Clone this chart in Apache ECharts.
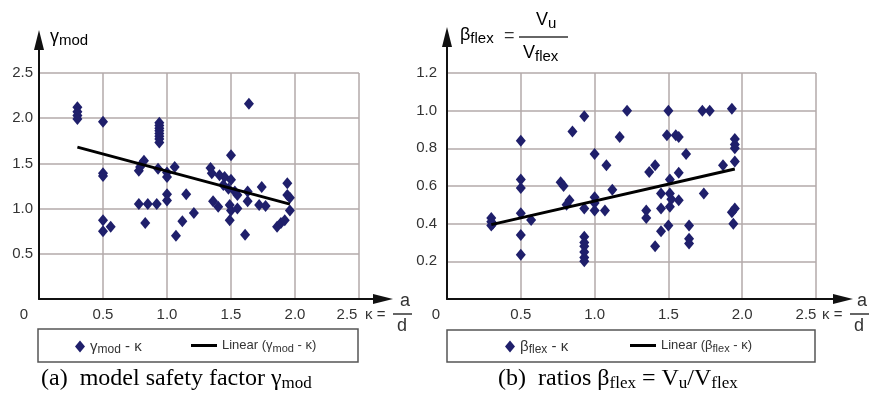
<!DOCTYPE html>
<html>
<head>
<meta charset="utf-8">
<script src="https://cdn.jsdelivr.net/npm/echarts@6/dist/echarts.min.js"></script>
<style>
html, body { margin: 0; padding: 0; background: #fff; }
#chart { width: 874px; height: 404px; }
</style>
</head>
<body>
<div id="chart"></div>
<script>
// (a) gamma_mod over kappa
var kappaA = [0.30, 0.30, 0.30, 0.30, 0.50, 0.50, 0.50, 0.50, 0.50, 0.56,
	0.78, 0.79, 0.82, 0.80, 0.78, 0.85, 0.92, 0.83,
	0.94, 0.94, 0.94, 0.94, 0.94, 0.94, 0.94, 0.94,
	0.93, 1.00, 1.00, 1.00, 1.00, 1.06, 1.07, 1.12, 1.15, 1.21,
	1.34, 1.35, 1.41, 1.45, 1.50, 1.44, 1.48, 1.53, 1.55,
	1.36, 1.40, 1.49, 1.50, 1.55, 1.49, 1.50, 1.64,
	1.63, 1.63, 1.61, 1.74, 1.72, 1.77,
	1.86, 1.89, 1.92, 1.94, 1.94, 1.96, 1.96];
var gammaMod = [2.12, 2.07, 2.03, 1.99, 1.96, 1.39, 1.36, 0.87, 0.75, 0.80,
	1.42, 1.46, 1.53, 1.49, 1.05, 1.05, 1.05, 0.84,
	1.95, 1.92, 1.89, 1.86, 1.83, 1.80, 1.77, 1.73,
	1.44, 1.40, 1.35, 1.16, 1.09, 1.46, 0.70, 0.86, 1.16, 0.95,
	1.45, 1.39, 1.37, 1.35, 1.32, 1.26, 1.22, 1.19, 1.15,
	1.08, 1.02, 1.04, 0.98, 1.00, 0.87, 1.59, 2.16,
	1.19, 1.08, 0.71, 1.24, 1.04, 1.03,
	0.80, 0.84, 0.87, 1.28, 1.15, 1.12, 0.98];
var trendKappaA = [0.30, 1.96];
var trendGammaA = [1.68, 1.05];

// (b) beta_flex over kappa
var kappaB = [0.30, 0.30, 0.30, 0.31, 0.50, 0.50, 0.50, 0.50, 0.50, 0.50, 0.57,
	0.77, 0.79, 0.83, 0.81, 0.85, 0.93, 0.93,
	0.93, 0.93, 0.93, 0.93, 0.93, 0.93,
	1.00, 1.00, 1.00, 1.00, 1.07, 1.08, 1.12, 1.17, 1.22,
	1.50, 1.73, 1.78, 1.93,
	1.49, 1.55, 1.57, 1.95, 1.95, 1.95,
	1.62, 1.37, 1.41, 1.57, 1.87, 1.95, 1.51,
	1.45, 1.51, 1.52, 1.57, 1.74, 1.45, 1.51,
	1.35, 1.35, 1.93, 1.95, 1.94, 1.50, 1.45, 1.64, 1.41, 1.64, 1.64];
var betaFlex = [0.43, 0.41, 0.39, 0.40, 0.84, 0.635, 0.59, 0.455, 0.34, 0.235, 0.42,
	0.62, 0.60, 0.525, 0.50, 0.89, 0.97, 0.48,
	0.33, 0.30, 0.28, 0.25, 0.22, 0.20,
	0.77, 0.54, 0.51, 0.47, 0.47, 0.71, 0.58, 0.86, 1.00,
	1.00, 1.00, 1.00, 1.01,
	0.87, 0.87, 0.86, 0.85, 0.82, 0.80,
	0.77, 0.675, 0.71, 0.67, 0.71, 0.73, 0.635,
	0.56, 0.56, 0.53, 0.525, 0.56, 0.48, 0.49,
	0.47, 0.43, 0.46, 0.48, 0.40, 0.39, 0.36, 0.39, 0.28, 0.32, 0.295];
var trendKappaB = [0.30, 1.95];
var trendBetaB = [0.395, 0.69];

// axis ranges / ticks
var kappaMax = 2.5, kappaStep = 0.5;
var gammaMax = 2.5, gammaStep = 0.5;
var betaMax = 1.2, betaStep = 0.2;

var SANS = "'Liberation Sans', Arial, sans-serif";
var SERIF = "'Liberation Serif', 'Times New Roman', serif";
var TXT = '#333';
var GRIDC = '#b3aaaa';
var MARK = '#1f1f6b';

function pairs(xs, ys) {
	var out = [];
	for(var i = 0; i < xs.length; i++) {
		out.push([xs[i], ys[i]]);
	}
	return out;
}

function xLabel(shift0, shiftEnd) {
	return {
		margin: 8,
		color: TXT,
		fontSize: 15,
		fontFamily: SANS,
		formatter: function(v) {
			if(v === 0) return '{z|0}';
			if(Math.abs(v - kappaMax) < 1e-9) return '{e|' + v.toFixed(1) + '}';
			return v.toFixed(1);
		},
		rich: {
			z: { padding: [0, shift0, 0, 0], fontSize: 15, fontFamily: SANS, color: TXT },
			e: { padding: [0, shiftEnd, 0, 0], fontSize: 15, fontFamily: SANS, color: TXT }
		}
	};
}

function plotX(grid, shift0, shiftEnd) {
	return {
		gridIndex: grid, type: 'value', min: 0, max: kappaMax, interval: kappaStep,
		axisLine: { show: false }, axisTick: { show: false },
		splitLine: { show: true, lineStyle: { color: GRIDC, width: 1.5 } },
		axisLabel: xLabel(shift0, shiftEnd)
	};
}

function plotY(grid, max, step, margin) {
	return {
		gridIndex: grid, type: 'value', min: 0, max: max, interval: step,
		axisLine: { show: false }, axisTick: { show: false },
		splitLine: { show: true, lineStyle: { color: GRIDC, width: 1.5 } },
		axisLabel: {
			margin: margin, color: TXT, fontSize: 15, fontFamily: SANS,
			formatter: function(v) { return v === 0 ? '' : v.toFixed(1); }
		}
	};
}

// black axes with arrow heads, drawn in their own (larger) grid
function arrowAxis(grid) {
	return {
		gridIndex: grid, type: 'value', min: 0, max: 1, z: 10,
		axisLine: { show: true, onZero: false, symbol: ['none', 'triangle'], symbolSize: [10, 20],
			lineStyle: { color: '#111', width: 2 } },
		axisTick: { show: false }, axisLabel: { show: false }, splitLine: { show: false }
	};
}

var legendNames = {
	'γmod - κ': '{a|γ}{s|mod}{a| - κ}',
	'Linear (γmod - κ)': '{b|Linear (γ}{t|mod}{b| - κ)}',
	'βflex - κ': '{a|β}{s|flex}{a| - κ}',
	'Linear (βflex - κ)': '{b|Linear (β}{t|flex}{b| - κ)}'
};
var legendRich = {
	a: { fontSize: 15, fontFamily: SANS, color: '#333' },
	s: { fontSize: 12, fontFamily: SANS, color: '#333', padding: [7, 0, 0, 0] },
	b: { fontSize: 13, fontFamily: SANS, color: '#333' },
	t: { fontSize: 11, fontFamily: SANS, color: '#333', padding: [6, 0, 0, 0] }
};
function legendItem(name, left, isLine) {
	return {
		data: [isLine ? { name: name, icon: 'rect' } : name],
		left: left, top: 339, padding: 0, selectedMode: false,
		itemWidth: isLine ? 26 : 10, itemHeight: isLine ? 3 : 12, itemGap: 0,
		formatter: function(n) { return legendNames[n]; },
		textStyle: { rich: legendRich }
	};
}

var capRich = {
	t: { fontSize: 24, fontFamily: SERIF, color: '#1a1a1a' },
	s: { fontSize: 17, fontFamily: SERIF, color: '#1a1a1a', padding: [10, 0, 0, 0] }
};
var nameRich = {
	g: { fontSize: 18, fontFamily: SANS, color: TXT },
	s: { fontSize: 15, fontFamily: SANS, color: TXT, padding: [8, 0, 0, 0] }
};

function kappaName(x) {
	return [
		{ type: 'text', left: x, top: 307, style: { text: 'κ =', font: '15px ' + SANS, fill: TXT } },
		{ type: 'text', left: x + 35, top: 292, style: { text: 'a', font: '18px ' + SANS, fill: TXT } },
		{ type: 'line', shape: { x1: x + 28, y1: 314, x2: x + 47, y2: 314 }, style: { stroke: TXT, lineWidth: 1.5 } },
		{ type: 'text', left: x + 32, top: 317, style: { text: 'd', font: '18px ' + SANS, fill: TXT } }
	];
}

var graphics = [
	{ type: 'rect', shape: { x: 38, y: 329, width: 320, height: 33 }, style: { fill: 'none', stroke: '#555', lineWidth: 1.5 } },
	{ type: 'rect', shape: { x: 447, y: 330, width: 368, height: 32 }, style: { fill: 'none', stroke: '#555', lineWidth: 1.5 } },
	{ type: 'text', left: 50, top: 28, style: { text: '{g|γ}{s|mod}', rich: nameRich } },
	{ type: 'text', left: 460, top: 26, style: { text: '{g|β}{s|flex}', rich: nameRich } },
	{ type: 'text', left: 504, top: 27, style: { text: '=', font: '18px ' + SANS, fill: TXT } },
	{ type: 'line', shape: { x1: 519, y1: 37, x2: 568, y2: 37 }, style: { stroke: TXT, lineWidth: 1.5 } },
	{ type: 'text', left: 536, top: 11, style: { text: '{g|V}{s|u}', rich: nameRich } },
	{ type: 'text', left: 523, top: 44, style: { text: '{g|V}{s|flex}', rich: nameRich } },
	{ type: 'text', left: 41, top: 367, style: { text: '{t|(a)  model safety factor γ}{s|mod}', rich: capRich } },
	{ type: 'text', left: 498, top: 367, style: { text: '{t|(b)  ratios β}{s|flex}{t| = V}{s|u}{t|/V}{s|flex}', rich: capRich } }
].concat(kappaName(365)).concat(kappaName(822));

var myChart = echarts.init(document.getElementById('chart'));
var option = {
	animation: false,
	backgroundColor: '#fff',
	grid: [
		{ left: 39, top: 73, right: 515, bottom: 105, outerBoundsMode: 'none' },
		{ left: 39, top: 40, right: 491, bottom: 105, outerBoundsMode: 'none' },
		{ left: 447, top: 73, right: 58, bottom: 105, outerBoundsMode: 'none' },
		{ left: 447, top: 37, right: 31, bottom: 105, outerBoundsMode: 'none' }
	],
	xAxis: [plotX(0, 30, 24), arrowAxis(1), plotX(2, 22, 20), arrowAxis(3)],
	yAxis: [plotY(0, gammaMax, gammaStep, 6), arrowAxis(1), plotY(2, betaMax, betaStep, 10), arrowAxis(3)],
	legend: [
		legendItem('γmod - κ', 75, false),
		legendItem('Linear (γmod - κ)', 191, true),
		legendItem('βflex - κ', 505, false),
		legendItem('Linear (βflex - κ)', 630, true)
	],
	graphic: { elements: graphics },
	series: [{
		name: 'γmod - κ', type: 'scatter', xAxisIndex: 0, yAxisIndex: 0,
		symbol: 'diamond', symbolSize: [10, 12], itemStyle: { color: MARK, opacity: 1 },
		data: pairs(kappaA, gammaMod)
	}, {
		name: 'Linear (γmod - κ)', type: 'line', xAxisIndex: 0, yAxisIndex: 0,
		symbol: 'none', showSymbol: false, lineStyle: { color: '#000', width: 3 }, itemStyle: { color: '#000' },
		data: pairs(trendKappaA, trendGammaA), z: 5
	}, {
		name: 'βflex - κ', type: 'scatter', xAxisIndex: 2, yAxisIndex: 2,
		symbol: 'diamond', symbolSize: [10, 12], itemStyle: { color: MARK, opacity: 1 },
		data: pairs(kappaB, betaFlex)
	}, {
		name: 'Linear (βflex - κ)', type: 'line', xAxisIndex: 2, yAxisIndex: 2,
		symbol: 'none', showSymbol: false, lineStyle: { color: '#000', width: 3 }, itemStyle: { color: '#000' },
		data: pairs(trendKappaB, trendBetaB), z: 5
	}]
};
myChart.setOption(option);
</script>
</body>
</html>
